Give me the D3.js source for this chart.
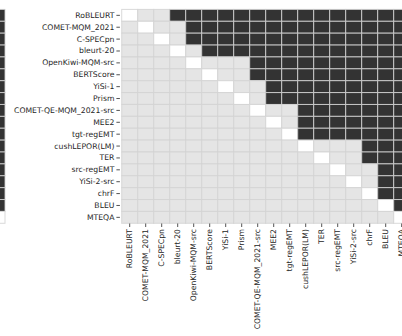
<!DOCTYPE html>
<html>
<head>
<meta charset="utf-8">
<script src="https://cdn.jsdelivr.net/npm/d3@7"></script>
<style>
  html, body { margin: 0; padding: 0; background: #fff; }
  svg { display: block; }
  text { font-family: "DejaVu Sans", sans-serif; fill: #262626; }
</style>
</head>
<body>
<svg id="chart" width="402" height="336"></svg>
<script>
// Metrics, ordered the same way on both axes
const metrics = [
  "RoBLEURT", "COMET-MQM_2021", "C-SPECpn", "bleurt-20", "OpenKiwi-MQM-src",
  "BERTScore", "YiSi-1", "Prism", "COMET-QE-MQM_2021-src", "MEE2",
  "tgt-regEMT", "cushLEPOR(LM)", "TER", "src-regEMT", "YiSi-2-src",
  "chrF", "BLEU", "MTEQA"
];

// Pairwise significance: 1 = row metric significantly beats column metric,
// 0 = no significant difference, null = same metric (diagonal)
const wins = [
  [null,0,0,1,1,1,1,1,1,1,1,1,1,1,1,1,1,1],
  [0,null,0,0,1,1,1,1,1,1,1,1,1,1,1,1,1,1],
  [0,0,null,0,1,1,1,1,1,1,1,1,1,1,1,1,1,1],
  [0,0,0,null,0,1,1,1,1,1,1,1,1,1,1,1,1,1],
  [0,0,0,0,null,0,0,0,1,1,1,1,1,1,1,1,1,1],
  [0,0,0,0,0,null,0,0,1,1,1,1,1,1,1,1,1,1],
  [0,0,0,0,0,0,null,0,0,1,1,1,1,1,1,1,1,1],
  [0,0,0,0,0,0,0,null,0,1,1,1,1,1,1,1,1,1],
  [0,0,0,0,0,0,0,0,null,0,0,1,1,1,1,1,1,1],
  [0,0,0,0,0,0,0,0,0,null,0,1,1,1,1,1,1,1],
  [0,0,0,0,0,0,0,0,0,0,null,1,1,1,1,1,1,1],
  [0,0,0,0,0,0,0,0,0,0,0,null,0,0,0,1,1,1],
  [0,0,0,0,0,0,0,0,0,0,0,0,null,0,0,1,1,1],
  [0,0,0,0,0,0,0,0,0,0,0,0,0,null,0,0,1,1],
  [0,0,0,0,0,0,0,0,0,0,0,0,0,0,null,0,1,1],
  [0,0,0,0,0,0,0,0,0,0,0,0,0,0,0,null,1,1],
  [0,0,0,0,0,0,0,0,0,0,0,0,0,0,0,0,null,1],
  [0,0,0,0,0,0,0,0,0,0,0,0,0,0,0,0,0,null]
];

const svg = d3.select("#chart");

const cellW = 16;
const gridTop = 9.4, gridBottom = 223.3;
const gridLeft = 121.7;

const fillFor = v => v === null ? "#ffffff" : (v === 1 ? "#333333" : "#e5e5e5");

const cells = [];
wins.forEach((row, r) => row.forEach((v, c) => cells.push({ r: metrics[r], c: metrics[c], v })));

const y = d3.scaleBand().domain(metrics).range([gridTop, gridBottom]);

// Draws one significance matrix whose left edge sits at x0
function drawMatrix(g, x0) {
  const x = d3.scaleBand().domain(metrics).range([x0, x0 + cellW * metrics.length]);
  g.selectAll("rect.cell")
    .data(cells)
    .join("rect")
    .attr("class", "cell")
    .attr("x", d => x(d.c))
    .attr("y", d => y(d.r))
    .attr("width", x.bandwidth())
    .attr("height", y.bandwidth())
    .attr("fill", d => fillFor(d.v))
    .attr("stroke", "#d2d2d2")
    .attr("stroke-opacity", 0.85)
    .attr("stroke-width", 1);
  return x;
}

// Neighbouring panel (same system ranking), mostly outside the frame
drawMatrix(svg.append("g"), 5 - cellW * metrics.length);

// Main panel
const main = svg.append("g");
const x = drawMatrix(main, gridLeft);

const fontSize = 7.7;

const yAxis = d3.axisLeft(y).tickSize(3.5).tickPadding(2);
const gy = svg.append("g")
  .attr("transform", `translate(${gridLeft - 1.8},0)`)
  .call(yAxis);
gy.select(".domain").remove();
gy.selectAll(".tick line").attr("stroke", "#262626").attr("stroke-width", 0.8);
gy.selectAll(".tick text")
  .attr("font-size", fontSize)
  .attr("font-family", "DejaVu Sans")
  .attr("fill", "#262626");

const xAxis = d3.axisBottom(x).tickSize(3.5).tickPadding(2);
const gx = svg.append("g")
  .attr("transform", `translate(0,${gridBottom + 0.2})`)
  .call(xAxis);
gx.select(".domain").remove();
gx.selectAll(".tick line").attr("stroke", "#262626").attr("stroke-width", 0.8);
gx.selectAll(".tick text")
  .attr("font-size", fontSize)
  .attr("font-family", "DejaVu Sans")
  .attr("fill", "#262626")
  .attr("text-anchor", "end")
  .attr("dy", "0.35em")
  .attr("transform", "translate(0,5.5) rotate(-90)")
  .attr("x", 0)
  .attr("y", 0);
</script>
</body>
</html>
